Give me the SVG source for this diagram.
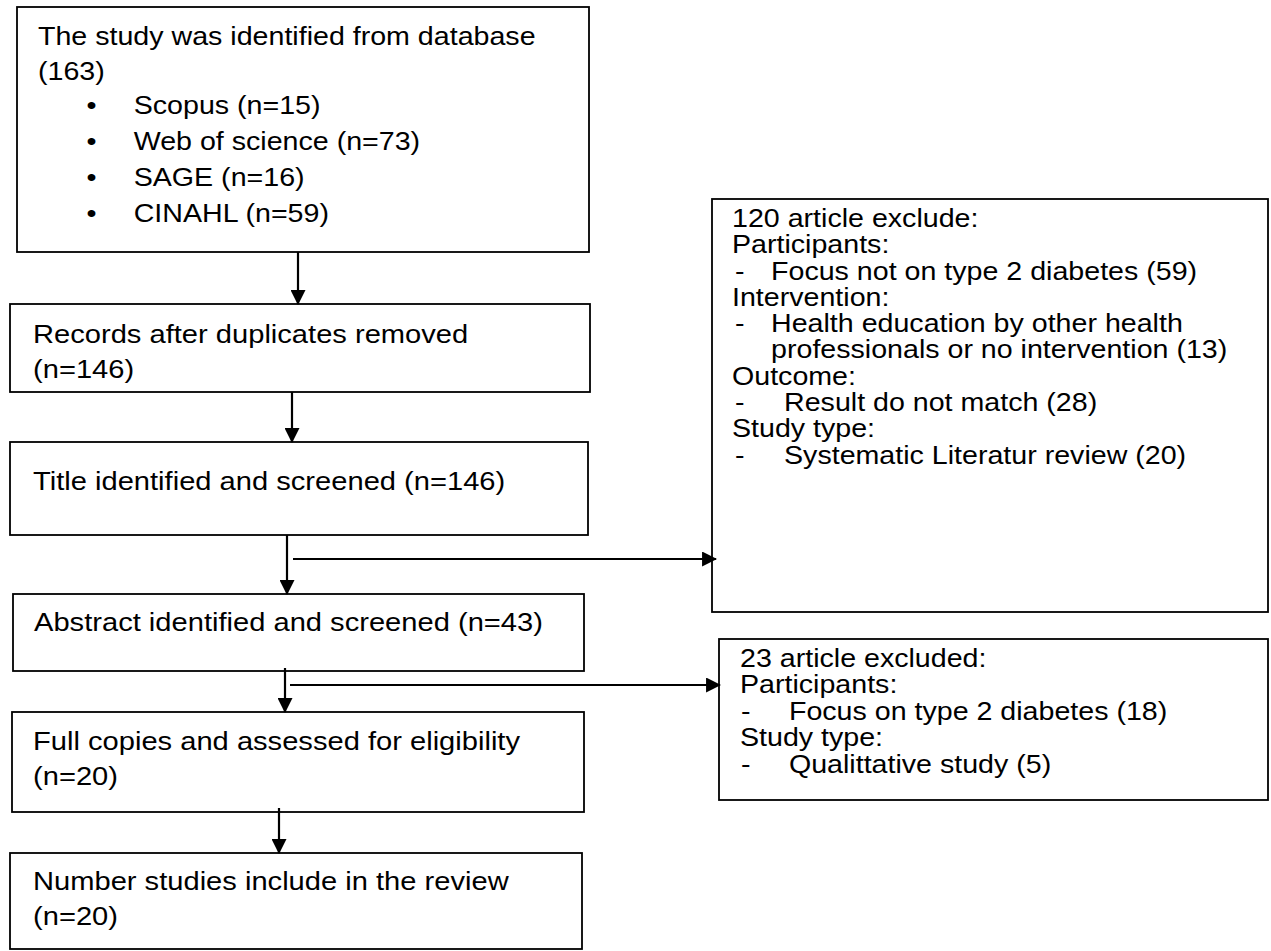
<svg xmlns="http://www.w3.org/2000/svg" width="1271" height="951" viewBox="0 0 1271 951">
<style>
.box{fill:#fff;stroke:#000;stroke-width:1.8}
.t{font-family:"Liberation Sans",Arial,sans-serif;font-size:26px;fill:#000}
.c{fill:none;stroke:#000;stroke-width:2.2}
</style>
<defs>
<marker id="ah" markerUnits="userSpaceOnUse" markerWidth="15" markerHeight="15" viewBox="0 0 14 14" refX="13" refY="7" orient="auto">
<path d="M0,0 L14,7 L0,14 Z" fill="#000"/>
</marker>
</defs>
<rect width="1271" height="951" fill="#fff"/>
<g id="n1">
<rect class="box" x="17" y="7" width="572" height="245"/>
<text class="t" transform="translate(38 45) scale(1.1 1)">
<tspan x="0" y="0">The study was identified from database</tspan>
<tspan x="0" y="35">(163)</tspan>
<tspan x="44" y="69">•</tspan><tspan x="87" y="69">Scopus (n=15)</tspan>
<tspan x="44" y="105">•</tspan><tspan x="87" y="105">Web of science (n=73)</tspan>
<tspan x="44" y="141">•</tspan><tspan x="87" y="141">SAGE (n=16)</tspan>
<tspan x="44" y="177">•</tspan><tspan x="87" y="177">CINAHL (n=59)</tspan>
</text>
</g>
<g id="n2">
<rect class="box" x="10" y="304" width="580" height="88"/>
<text class="t" transform="translate(33 343) scale(1.12 1)">
<tspan x="0" y="0">Records after duplicates removed</tspan>
<tspan x="0" y="35">(n=146)</tspan>
</text>
</g>
<g id="n3">
<rect class="box" x="10" y="442" width="578" height="93"/>
<text class="t" transform="translate(33 490) scale(1.12 1)">Title identified and screened (n=146)</text>
</g>
<g id="n4">
<rect class="box" x="13" y="594" width="571" height="77"/>
<text class="t" transform="translate(34 631) scale(1.12 1)">Abstract identified and screened (n=43)</text>
</g>
<g id="n5">
<rect class="box" x="12" y="712" width="572" height="100"/>
<text class="t" transform="translate(33 750) scale(1.12 1)">
<tspan x="0" y="0">Full copies and assessed for eligibility</tspan>
<tspan x="0" y="35">(n=20)</tspan>
</text>
</g>
<g id="n6">
<rect class="box" x="10" y="853" width="572" height="96"/>
<text class="t" transform="translate(33 890) scale(1.12 1)">
<tspan x="0" y="0">Number studies include in the review</tspan>
<tspan x="0" y="35">(n=20)</tspan>
</text>
</g>
<g id="n7">
<rect class="box" x="712" y="199" width="556" height="413"/>
<text class="t" transform="translate(732 227) scale(1.1 1)">
<tspan x="0" y="0">120 article exclude:</tspan>
<tspan x="0" y="26.3">Participants:</tspan>
<tspan x="2.7" y="52.6">-</tspan><tspan x="35.5" y="52.6">Focus not on type 2 diabetes (59)</tspan>
<tspan x="0" y="78.9">Intervention:</tspan>
<tspan x="2.7" y="105.2">-</tspan><tspan x="35.5" y="105.2">Health education by other health</tspan>
<tspan x="35.5" y="131.5">professionals or no intervention (13)</tspan>
<tspan x="0" y="157.8">Outcome:</tspan>
<tspan x="2.7" y="184.1">-</tspan><tspan x="47.3" y="184.1">Result do not match (28)</tspan>
<tspan x="0" y="210.4">Study type:</tspan>
<tspan x="2.7" y="236.7">-</tspan><tspan x="47.3" y="236.7">Systematic Literatur review (20)</tspan>
</text>
</g>
<g id="n8">
<rect class="box" x="719" y="639" width="549" height="161"/>
<text class="t" transform="translate(740 667) scale(1.1 1)">
<tspan x="0" y="0">23 article excluded:</tspan>
<tspan x="0" y="26.5">Participants:</tspan>
<tspan x="1" y="53">-</tspan><tspan x="44.5" y="53">Focus on type 2 diabetes (18)</tspan>
<tspan x="0" y="79.5">Study type:</tspan>
<tspan x="1" y="106">-</tspan><tspan x="44.5" y="106">Qualittative study (5)</tspan>
</text>
</g>
<g id="connectors">
<line class="c" x1="298" y1="252" x2="298" y2="304" marker-end="url(#ah)"/>
<line class="c" x1="292" y1="392" x2="292" y2="442" marker-end="url(#ah)"/>
<line class="c" x1="287" y1="535" x2="287" y2="594" marker-end="url(#ah)"/>
<line class="c" x1="293" y1="559" x2="716" y2="559" marker-end="url(#ah)"/>
<line class="c" x1="285" y1="668" x2="285" y2="712" marker-end="url(#ah)"/>
<line class="c" x1="290" y1="685" x2="720" y2="685" marker-end="url(#ah)"/>
<line class="c" x1="279" y1="808" x2="279" y2="853" marker-end="url(#ah)"/>
</g>
</svg>
